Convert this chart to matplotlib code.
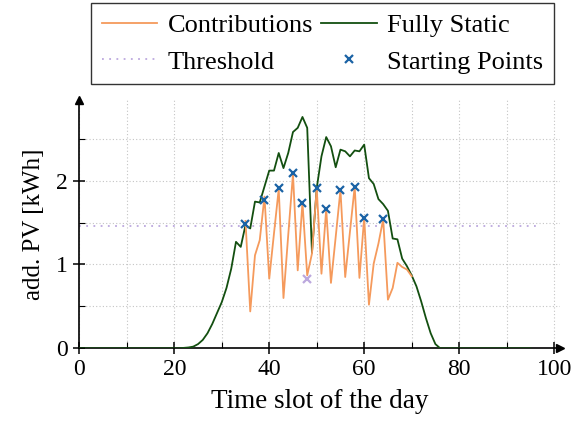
import numpy as np
import matplotlib
matplotlib.use("Agg")
import matplotlib.pyplot as plt
from matplotlib.ticker import MultipleLocator

# time slots 0..95, fully static curve
static_slots = list(range(96))
fully_static = ([0.0] * 22 +
                [0.005, 0.01, 0.02, 0.05, 0.10, 0.18, 0.29, 0.42, 0.55, 0.72,
                 0.95, 1.27, 1.21, 1.47, 1.43, 1.75, 1.74, 1.93, 2.12, 2.12,
                 2.33, 2.15, 2.33, 2.58, 2.63, 2.76, 2.63, 1.14, 1.91, 2.29,
                 2.52, 2.41, 2.16, 2.37, 2.35, 2.29, 2.36, 2.35, 2.43, 2.03,
                 1.96, 1.78, 1.72, 1.64, 1.31, 1.30, 1.07, 0.98, 0.87, 0.74,
                 0.56, 0.36, 0.18, 0.05, 0.0] +
                [0.0] * 19)

contrib_slots = list(range(35, 71))
contributions = [1.52, 0.44, 1.11, 1.29, 1.81, 0.83, 1.37, 1.90, 0.60, 1.35,
                 2.08, 0.93, 1.74, 0.87, 1.13, 1.91, 0.89, 1.66, 0.78, 1.33,
                 1.89, 0.85, 1.39, 1.93, 0.84, 1.56, 0.52, 1.01, 1.25, 1.54,
                 0.58, 0.72, 1.02, 0.97, 0.94, 0.86]

start_slots = [35, 39, 42, 45, 47, 50, 52, 55, 58, 60, 64]
start_values = [1.48, 1.77, 1.91, 2.09, 1.73, 1.91, 1.66, 1.89, 1.93, 1.56, 1.54]

rejected_slot = [48]
rejected_value = [0.83]

threshold_slots = [0, 96.6]
threshold = 1.46

ORANGE = "#f59a5c"
GREEN = "#134f10"
BLUE = "#1b63a5"
LAVENDER = "#bca8de"

plt.rcParams["font.family"] = ["Liberation Serif", "DejaVu Serif"]

fig = plt.figure(figsize=(5.73, 4.30), dpi=100)
ax = fig.add_axes([0.1384, 0.19, 0.8386, 0.577])

ax.plot(threshold_slots, [threshold] * len(threshold_slots), color=LAVENDER,
        linestyle=(0, (1, 3)), lw=1.3, label="Threshold", zorder=2)
ax.plot(static_slots, fully_static, color=GREEN, lw=1.3, label="Fully Static", zorder=3)
ax.plot(contrib_slots, contributions, color=ORANGE, lw=1.3, label="Contributions", zorder=4)
ax.plot(start_slots, start_values, linestyle="none", marker="x", color=BLUE,
        ms=6, mew=1.6, label="Starting Points", zorder=5)
ax.plot(rejected_slot, rejected_value, linestyle="none", marker="x", color=LAVENDER,
        ms=6, mew=1.6, zorder=5)

ax.set_xlim(0, 101.2)
ax.set_ylim(0, 2.96)
ax.xaxis.set_minor_locator(MultipleLocator(10))
ax.yaxis.set_major_locator(MultipleLocator(1))
ax.yaxis.set_minor_locator(MultipleLocator(0.5))
ax.set_xticks([0, 20, 40, 60, 80, 100])
ax.grid(True, which="both", color="#c4c4c4", linestyle=(0, (1, 2)), lw=0.8)
ax.set_axisbelow(True)

for side in ["top", "right"]:
    ax.spines[side].set_visible(False)
for side in ["left", "bottom"]:
    ax.spines[side].set_linewidth(1.2)
ax.plot(1, 0, ">k", ms=6, transform=ax.transAxes, clip_on=False)
ax.plot(0, 1, "^k", ms=6, transform=ax.transAxes, clip_on=False)

ax.tick_params(which="major", direction="inout", length=9, width=1.1, labelsize=17)
ax.tick_params(which="minor", direction="in", length=4, width=0.8)

ax.set_xlabel("Time slot of the day", fontsize=19.5, labelpad=6)
ax.set_ylabel("add. PV [kWh]", fontsize=18, labelpad=8)

handles, labels = ax.get_legend_handles_labels()
# legend fills column-wise
order = [labels.index(n) for n in ["Contributions", "Threshold", "Fully Static", "Starting Points"]]
fig.legend([handles[i] for i in order], [labels[i] for i in order],
           ncol=2, loc="upper center", bbox_to_anchor=(0.563, 0.993),
           fontsize=19, frameon=True, fancybox=False,
           edgecolor="#333333", framealpha=1, handlelength=2.1, handletextpad=0.4,
           columnspacing=0.3, borderaxespad=0, labelspacing=0.5, borderpad=0.4)

fig.savefig("out.png", dpi=100)
